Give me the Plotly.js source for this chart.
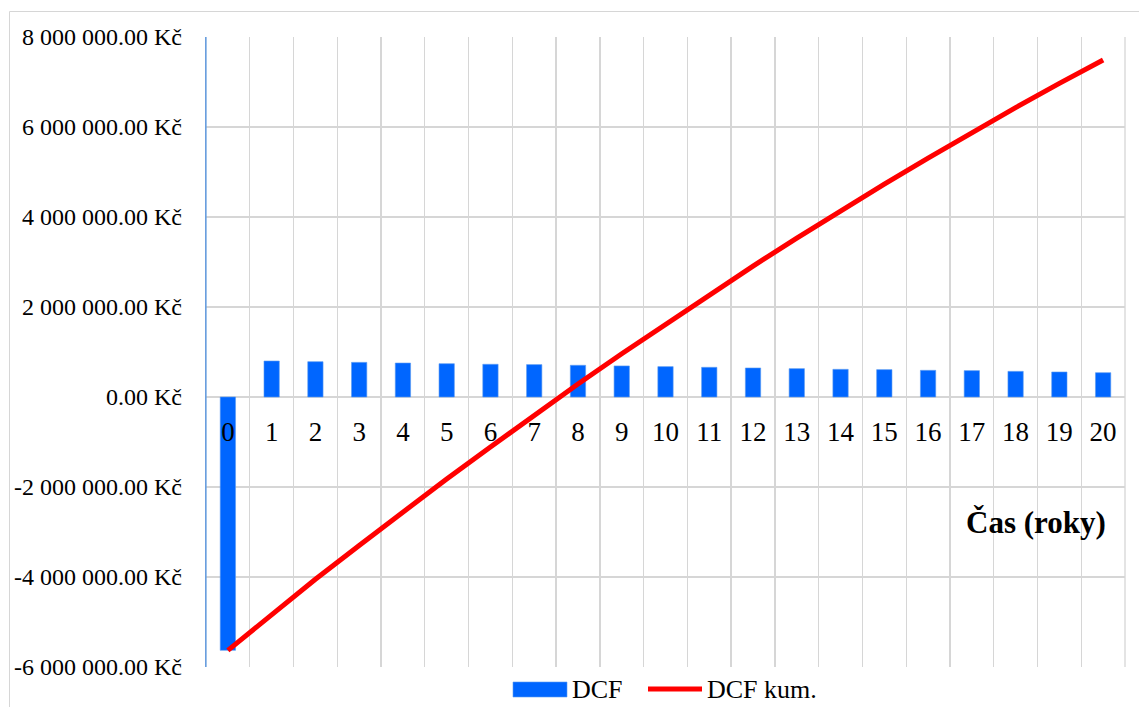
<!DOCTYPE html>
<html>
<head>
<meta charset="utf-8">
<script src="https://cdn.plot.ly/plotly-3.0.1.min.js"></script>
<style>
  html, body { margin: 0; padding: 0; background: #ffffff; }
  #chart { width: 1139px; height: 707px; }
</style>
</head>
<body>
<div id="chart"></div>
<script>
// Years of the project
const years = ['0', '1', '2', '3', '4', '5', '6', '7', '8', '9', '10',
               '11', '12', '13', '14', '15', '16', '17', '18', '19', '20'];

// Discounted cash flow per year (Kč)
const dcf = [-5630000, 800000, 785000, 770000, 755000, 740000, 727000, 720000,
             705000, 690000, 675000, 660000, 645000, 630000, 615000, 608000,
             593000, 586000, 570000, 556000, 540000];

// Cumulative discounted cash flow (Kč)
const dcfKum = [-5630000, -4830000, -4050000, -3300000, -2550000, -1820000,
                -1110000, -400000, 290000, 960000, 1620000, 2270000, 2910000,
                3530000, 4140000, 4730000, 5310000, 5880000, 6430000, 6970000,
                7490000];

// Value axis ticks
const yTickVals = [-6000000, -4000000, -2000000, 0, 2000000, 4000000, 6000000, 8000000];
const yTickText = ['-6 000 000.00 Kč', '-4 000 000.00 Kč', '-2 000 000.00 Kč', '0.00 Kč',
                   '2 000 000.00 Kč', '4 000 000.00 Kč', '6 000 000.00 Kč', '8 000 000.00 Kč'];

const seriesNames = ['DCF', 'DCF kum.'];
const axisTitle = 'Čas (roky)';

// Page geometry helpers (pixel -> paper fraction)
const W = 1139, H = 707, ML = 206, MR = 14, MT = 37, MB = 40;
const px = x => (x - ML) / (W - ML - MR);
const py = y => (H - MB - y) / (H - MT - MB);

const FONT = '"Liberation Serif", "Times New Roman", Times, serif';
const BLUE = '#0066ff';
const RED = '#ff0000';
const GRID = '#d6d6d6';

const yMin = yTickVals[0], yMax = yTickVals[yTickVals.length - 1];

const traces = [
  {
    type: 'bar',
    name: seriesNames[0],
    x: years,
    y: dcf,
    width: 0.35,
    marker: { color: BLUE, line: { color: '#5b9bf0', width: 0.6 } },
    hoverinfo: 'skip'
  },
  {
    type: 'scatter',
    mode: 'lines',
    name: seriesNames[1],
    x: years,
    y: dcfKum,
    line: { color: RED, width: 5 },
    hoverinfo: 'skip'
  }
];

const layout = {
  width: W,
  height: H,
  margin: { l: ML, r: MR, t: MT, b: MB, pad: 0 },
  paper_bgcolor: '#ffffff',
  plot_bgcolor: '#ffffff',
  showlegend: false,
  font: { family: FONT, color: '#000000' },
  xaxis: {
    type: 'category',
    tickson: 'boundaries',
    anchor: 'free',
    position: (0 - yMin) / (yMax - yMin),
    showline: false,
    showgrid: true,
    gridcolor: GRID,
    gridwidth: 1.3,
    ticks: '',
    ticklabelstandoff: 16,
    tickfont: { family: FONT, size: 27, color: '#000000' },
    fixedrange: true
  },
  yaxis: {
    range: [yMin, yMax],
    tickvals: yTickVals,
    ticktext: yTickText,
    showline: true,
    linecolor: '#6a9fde',
    linewidth: 1.3,
    showgrid: true,
    gridcolor: GRID,
    gridwidth: 1.3,
    zeroline: false,
    ticks: 'outside',
    ticklen: 18,
    tickcolor: 'rgba(0,0,0,0)',
    tickfont: { family: FONT, size: 24, color: '#000000' },
    fixedrange: true
  },
  shapes: [
    // chart frame
    { type: 'rect', xref: 'paper', yref: 'paper',
      x0: px(9.5), x1: px(1160), y0: py(730), y1: py(11.5),
      line: { color: GRID, width: 1 }, fillcolor: 'rgba(0,0,0,0)', layer: 'below' },
    // plot area right edge
    { type: 'line', xref: 'paper', yref: 'paper',
      x0: 1, x1: 1, y0: 0, y1: 1, line: { color: GRID, width: 1.3 }, layer: 'below' },
    // value axis line on top of the first grid line
    { type: 'line', xref: 'paper', yref: 'paper',
      x0: 0, x1: 0, y0: 0, y1: 1, line: { color: '#6a9fde', width: 1.3 } },
    // legend keys
    { type: 'rect', xref: 'paper', yref: 'paper',
      x0: px(513), x1: px(567), y0: py(697), y1: py(682),
      fillcolor: BLUE, line: { color: '#5b9bf0', width: 0.6 } },
    { type: 'line', xref: 'paper', yref: 'paper',
      x0: px(648), x1: px(702), y0: py(689), y1: py(689),
      line: { color: RED, width: 5 } }
  ],
  annotations: [
    { xref: 'paper', yref: 'paper', x: px(1108), y: py(522),
      xanchor: 'right', yanchor: 'middle', showarrow: false,
      text: '<b>' + axisTitle + '</b>',
      font: { family: FONT, size: 31, color: '#000000' } },
    { xref: 'paper', yref: 'paper', x: px(570), y: py(689),
      xanchor: 'left', yanchor: 'middle', showarrow: false,
      text: seriesNames[0],
      font: { family: FONT, size: 26, color: '#000000' } },
    { xref: 'paper', yref: 'paper', x: px(705), y: py(689),
      xanchor: 'left', yanchor: 'middle', showarrow: false,
      text: seriesNames[1],
      font: { family: FONT, size: 26, color: '#000000' } }
  ]
};

Plotly.newPlot('chart', traces, layout, { displayModeBar: false, staticPlot: true });
</script>
</body>
</html>
